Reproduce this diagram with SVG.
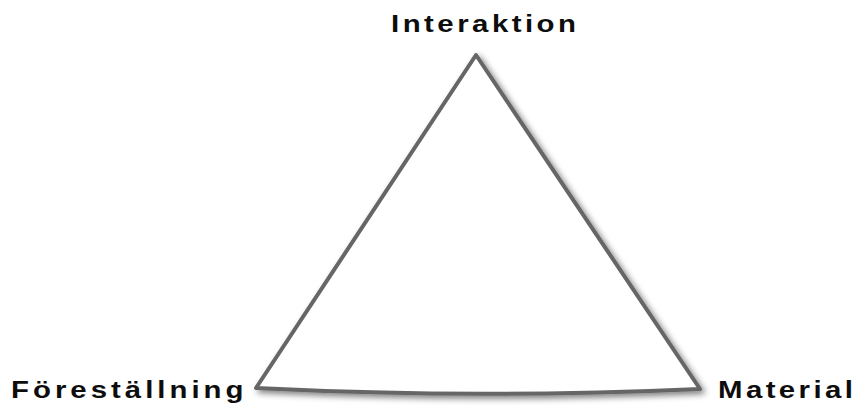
<svg xmlns="http://www.w3.org/2000/svg" width="864" height="408" viewBox="0 0 864 408">
<defs>
<filter id="shadow" x="-10%" y="-10%" width="130%" height="130%">
<feGaussianBlur in="SourceAlpha" stdDeviation="3"/>
<feOffset dx="3" dy="3" result="b"/>
<feComponentTransfer><feFuncA type="linear" slope="0.5"/></feComponentTransfer>
<feMerge><feMergeNode/><feMergeNode in="SourceGraphic"/></feMerge>
</filter>
<style>
.lbl{font-family:"Liberation Sans",Arial,sans-serif;font-size:23.5px;font-weight:bold;fill:#0d0d0d;}
.tri{fill:#ffffff;stroke:#666666;stroke-width:4;stroke-linejoin:round;}
</style>
</defs>
<rect width="864" height="408" fill="#ffffff"/>
<g id="connectors">
<path class="tri" filter="url(#shadow)" d="M476,55 L700,389 Q478,399 256,388 Z"/>
</g>
<g id="node-interaktion"><text class="lbl" transform="translate(391,32) scale(1.25,1)" textLength="148" lengthAdjust="spacing">Interaktion</text></g>
<g id="node-forestallning"><text class="lbl" transform="translate(11,398) scale(1.25,1)" textLength="186" lengthAdjust="spacing">Föreställning</text></g>
<g id="node-material"><text class="lbl" transform="translate(718,398) scale(1.25,1)" textLength="108" lengthAdjust="spacing">Material</text></g>
</svg>
